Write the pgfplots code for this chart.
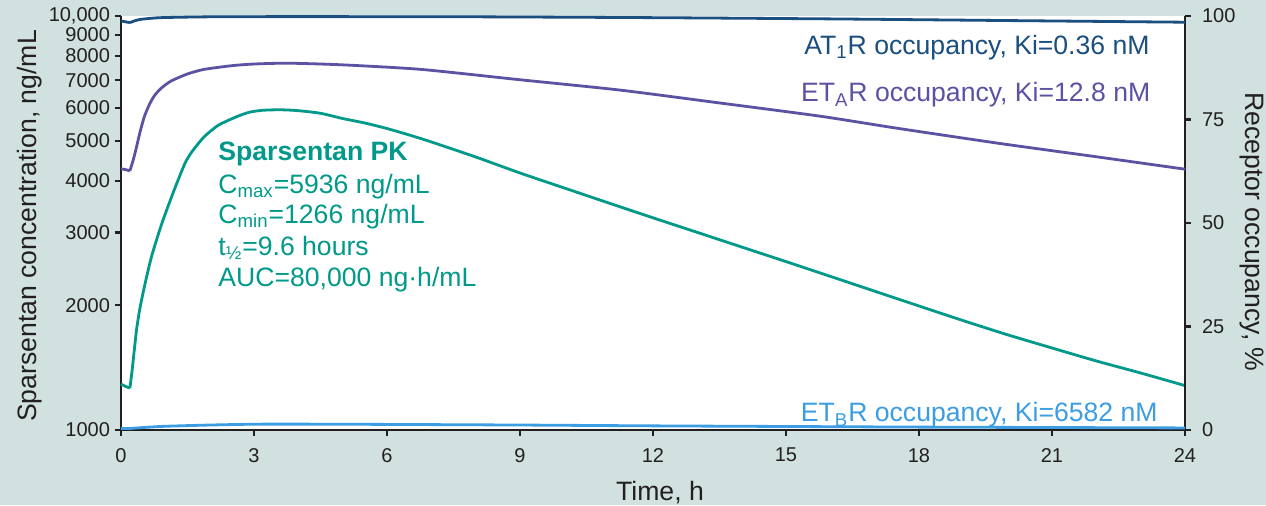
\documentclass[border=0pt]{standalone}
\usepackage{fontspec}
\setmainfont{Liberation Sans}
\usepackage{pgfplots}
\pgfplotsset{compat=1.18}
\definecolor{bg}{HTML}{D0E1E0}
\definecolor{axcol}{HTML}{231F20}
\definecolor{atr}{HTML}{1B4F80}
\definecolor{etar}{HTML}{5B52A3}
\definecolor{pk}{HTML}{00998A}
\definecolor{etbr}{HTML}{3C9DE3}
% pixel -> pt helper (image is 1266x505 px, 0.5pt per px)
\newcommand\px[2]{({#1*0.5pt},{(505-#2)*0.5pt})}
\newcommand\lab{\fontsize{13.3}{15}\selectfont}

% PK, before the dose
\pgfplotstableread{
t c
0 1290
0.1 1275
0.2 1262
}\pkpre
% PK, after the dose
\pgfplotstableread{
t c
0.2 1262
0.25 1390
0.3 1560
0.35 1744
0.42 1950
0.5 2150
0.6 2400
0.7 2650
0.88 3060
1.0 3330
1.2 3800
1.44 4400
1.6 4700
1.87 5100
2.2 5450
2.64 5730
2.91 5860
3.2 5920
3.6 5936
4.0 5906
4.5 5821
5.0 5654
5.5 5514
6 5348
6.5 5160
7 4963
8 4565
9 4176
10 3842
11 3535
12 3255
13 3001
14 2767
15 2551
16 2350
17 2164
18 1993
19 1837
20 1698
21 1578
22 1468
23 1373
24 1280
}\pkpost

\pgfplotstableread{
t o
0 63.1
0.1 62.9
0.2 62.6
}\etarpre
\pgfplotstableread{
t o
0.2 62.6
0.27 65.0
0.34 67.9
0.43 72.0
0.53 75.8
0.64 78.6
0.75 80.7
0.9 82.5
1.13 84.3
1.5 86.0
1.87 87.1
2.5 88.0
3.0 88.4
3.77 88.6
5.0 88.2
6.77 87.1
9 84.6
11.26 82.1
13.5 79.0
15.77 75.8
17.5 72.9
19.83 69.2
22 66.0
24 63.0
}\etarpost

\pgfplotstableread{
t o
0 98.8
0.1 98.6
0.2 98.4
}\atrpre
\pgfplotstableread{
t o
0.2 98.4
0.3 98.8
0.45 99.2
0.9 99.6
2 99.8
4 99.85
8 99.8
12 99.6
16 99.3
20 98.9
24 98.5
}\atrpost

\pgfplotstableread{
t o
0 0.4
0.2 0.38
0.5 0.6
1 0.9
2 1.2
3 1.4
4 1.42
6 1.35
9 1.2
12 1.0
15 0.85
18 0.7
21 0.6
24 0.5
}\etbrdata

\pgfplotsset{
  common/.style={
    at={(60.5pt,37.5pt)}, anchor=south west,
    scale only axis, width=532pt, height=207pt,
    xmin=0, xmax=24,
    tick align=outside, major tick length=3pt,
    axis line style={line width=1.2pt, axcol},
    tick style={line width=1.1pt, axcol},
    ticklabel style={font=\fontsize{10}{12}\selectfont, text=axcol},
    /pgf/number format/assume math mode=true,
    clip=false,
  },
  crv/.style={line width=1.4pt, line join=round},
}

\begin{document}
\begin{tikzpicture}
\fill[bg] (0,0) rectangle (633pt,252.5pt);

\begin{axis}[common,
  ymode=log, ymin=1000, ymax=10000,
  axis x line*=bottom, axis y line*=left,
  xtick={0,3,6,9,12,15,18,21,24},
  xticklabel style={yshift=-2.5pt},
  ytick={1000,2000,3000,4000,5000,6000,7000,8000,9000,10000},
  yticklabels={1000,2000,3000,4000,5000,6000,7000,8000,9000,{10,000}},
  yticklabel style={xshift=1pt},
  yminorticks=false,
  axis background/.style={fill=white},
]
\addplot[pk, crv] table[x=t,y=c] {\pkpre};
\addplot[pk, crv, smooth, tension=0.4] table[x=t,y=c] {\pkpost};
\end{axis}

\begin{axis}[common,
  ymin=0, ymax=100,
  axis x line=none, axis y line*=right,
  ytick={0,25,50,75,100},
  yticklabel style={xshift=2pt},
]
\addplot[atr, crv] table[x=t,y=o] {\atrpre};
\addplot[atr, crv, smooth, tension=0.4] table[x=t,y=o] {\atrpost};
\addplot[etar, crv] table[x=t,y=o] {\etarpre};
\addplot[etar, crv, smooth, tension=0.4] table[x=t,y=o] {\etarpost};
\addplot[etbr, crv, smooth, tension=0.4] table[x=t,y=o] {\etbrdata};
\end{axis}

% series labels
\node[anchor=base east, atr, inner sep=0pt, font=\lab] at \px{1150}{54.3}
  {AT\textsubscript{1}R occupancy, Ki=0.36 nM};
\node[anchor=base east, etar, inner sep=0pt, font=\lab] at \px{1150.7}{101.7}
  {ET\textsubscript{A}R occupancy, Ki=12.8 nM};
\node[anchor=base east, etbr, inner sep=0pt, font=\lab] at \px{1158}{421.7}
  {ET\textsubscript{B}R occupancy, Ki=6582 nM};

% PK box
\node[anchor=base west, pk, inner sep=0pt, font=\lab\bfseries] at \px{218}{160} {Sparsentan PK};
\node[anchor=base west, pk, inner sep=0pt, font=\lab] at \px{218}{193.3} {C\textsubscript{max}=5936 ng/mL};
\node[anchor=base west, pk, inner sep=0pt, font=\lab] at \px{218}{223.3} {C\textsubscript{min}=1266 ng/mL};
\node[anchor=base west, pk, inner sep=0pt, font=\lab] at \px{218}{255} {t\textsubscript{½}=9.6 hours};
\node[anchor=base west, pk, inner sep=0pt, font=\lab] at \px{218}{286.7} {AUC=80,000 ng·h/mL};

% axis titles
\node[anchor=base, axcol, inner sep=0pt, font=\lab] at \px{660}{500} {Time, h};
\node[rotate=90, axcol, inner sep=0pt, font=\lab] at \px{30}{226} {Sparsentan concentration, ng/mL};
\node[rotate=-90, axcol, inner sep=0pt, font=\lab] at \px{1252}{232} {Receptor occupancy, \%};

\pgfresetboundingbox
\useasboundingbox (0,0) rectangle (633pt,252.5pt);
\end{tikzpicture}
\end{document}
